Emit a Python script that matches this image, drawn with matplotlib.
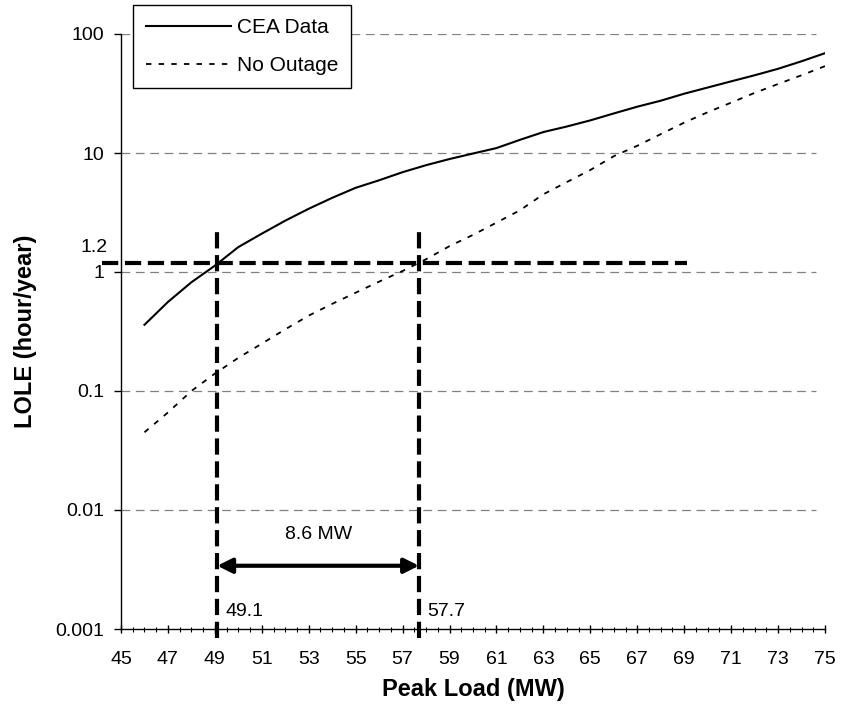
import matplotlib
matplotlib.use("Agg")
import matplotlib.pyplot as plt
from matplotlib.ticker import FixedLocator, MultipleLocator, FuncFormatter
from matplotlib.transforms import blended_transform_factory

plt.rcParams['font.family'] = ['Liberation Sans', 'DejaVu Sans']

# LOLE curves (hour/year) against peak load (MW)
peak_load = [46, 47, 48, 49, 50, 51, 52, 53, 54, 55, 56, 57, 58, 59, 60,
             61, 62, 63, 64, 65, 66, 67, 68, 69, 70, 71, 72, 73, 74, 75]
lole_cea = [0.36, 0.56, 0.82, 1.13, 1.62, 2.1, 2.7, 3.4, 4.2, 5.1, 5.9, 6.9,
            7.9, 8.9, 9.9, 11.0, 12.9, 15.0, 16.7, 18.8, 21.5, 24.5, 27.5,
            31.5, 35.5, 40, 45, 51, 59, 69]
lole_no_outage = [0.045, 0.066, 0.1, 0.14, 0.19, 0.25, 0.33, 0.43, 0.54,
                  0.67, 0.83, 1.02, 1.28, 1.65, 2.05, 2.6, 3.3, 4.5, 5.7,
                  7.2, 9.4, 11.5, 14.4, 18, 22, 26.5, 32, 38, 45, 53.7]

lole_target = 1.2
load_cea = 49.1
load_no_outage = 57.7
y_ticks = [0.001, 0.01, 0.1, 1, 10, 100]

fig = plt.figure(figsize=(8.42, 7.11), dpi=100)
ax = fig.add_axes([121 / 842, 1 - 629 / 711, 704 / 842, 595 / 711])

ax.plot(peak_load, lole_cea, color='black', lw=1.5, label='CEA Data')
ax.plot(peak_load, lole_no_outage, color='black', lw=1.3,
        dashes=(3, 4), label='No Outage')

ax.set_yscale('log')
ax.set_xlim(45, 75)
ax.set_ylim(0.001, 100)

for v in y_ticks[1:]:
    ax.axhline(v, xmax=0.987, color='#808080', lw=0.9, dashes=(7, 4.5), zorder=0)

# target LOLE and the loads that meet it
thick = dict(color='black', lw=3, dashes=(3.9, 1.6), clip_on=False)
ax.plot([44.2, 69.1], [lole_target, lole_target], **thick)
for x in (load_cea, load_no_outage):
    ax.plot([x, x], [0.00084, 2.3], **thick)

ax.annotate('', xy=(load_no_outage, 0.0034), xytext=(load_cea, 0.0034),
            arrowprops=dict(arrowstyle='<|-|>', color='black', lw=3,
                            mutation_scale=22, shrinkA=0, shrinkB=0))
ax.text((load_cea + load_no_outage) / 2, 0.0062,
        f'{load_no_outage - load_cea:.1f} MW', ha='center', va='center', fontsize=14)
ax.text(load_cea + 0.34, 0.00139, f'{load_cea}', ha='left', va='center', fontsize=14)
ax.text(load_no_outage + 0.34, 0.00139, f'{load_no_outage}', ha='left',
        va='center', fontsize=14)

trans = blended_transform_factory(ax.transAxes, ax.transData)
ax.text(-0.0185, 1.62, f'{lole_target}', transform=trans, ha='right',
        va='center', fontsize=14)

# axes styling
for side in ('top', 'right'):
    ax.spines[side].set_visible(False)
for side in ('left', 'bottom'):
    ax.spines[side].set_linewidth(1.0)

ax.xaxis.set_major_locator(MultipleLocator(2, offset=1))
ax.xaxis.set_minor_locator(MultipleLocator(0.5))
ax.tick_params(axis='x', which='major', direction='inout', length=6, width=1,
               pad=13, labelsize=14)
ax.tick_params(axis='x', which='minor', direction='inout', length=3.6, width=0.8)

ax.yaxis.set_major_locator(FixedLocator(y_ticks))
ax.yaxis.set_minor_locator(FixedLocator([]))
ax.yaxis.set_major_formatter(FuncFormatter(lambda v, p: f'{v:g}'))
ax.tick_params(axis='y', which='major', direction='out', length=5, width=1,
               pad=7, labelsize=14)

ax.set_xlabel('Peak Load (MW)', fontsize=17, fontweight='bold')
ax.set_ylabel('LOLE (hour/year)', fontsize=17, fontweight='bold')
ax.xaxis.set_label_coords(0.5, -0.082)
ax.yaxis.set_label_coords(-0.119, 0.5)

leg = ax.legend(loc='upper left', bbox_to_anchor=(133 / 842, 1 - 5 / 711),
                bbox_transform=fig.transFigure, borderaxespad=0, fontsize=15,
                handlelength=4.1, handletextpad=0.25, labelspacing=0.92,
                borderpad=0.62, fancybox=False, framealpha=1, edgecolor='black')
leg.get_frame().set_linewidth(1.0)
leg.set_zorder(5)

fig.savefig('out.png', dpi=100)
